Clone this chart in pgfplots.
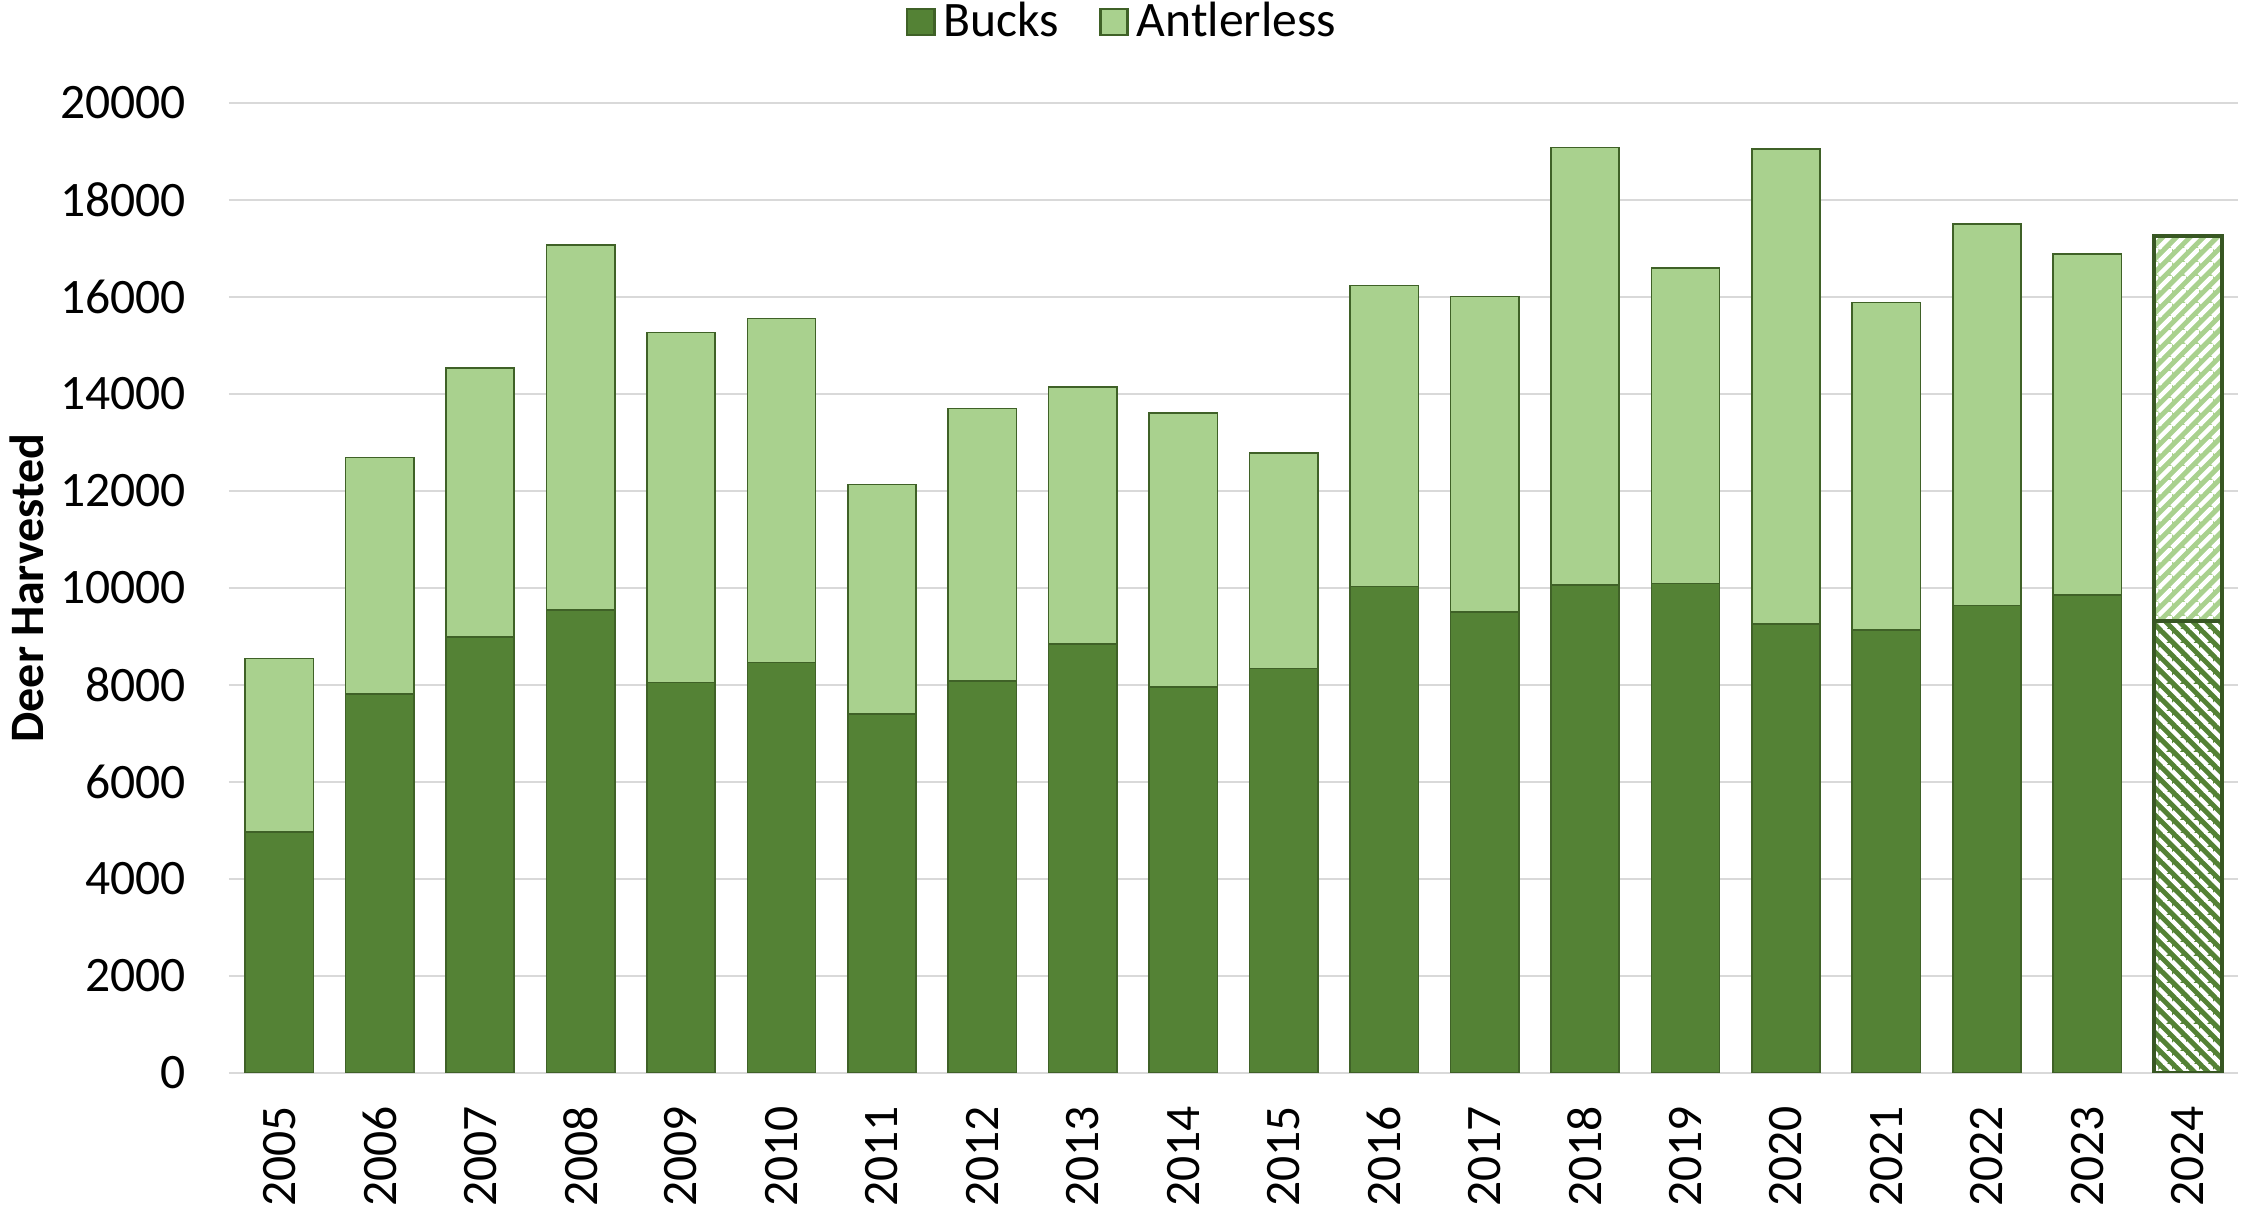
\documentclass[border=0pt]{standalone}
\usepackage{pgfplots}
\pgfplotsset{compat=1.18}
\usetikzlibrary{patterns}
\usepackage{fontspec}
\setmainfont{Carlito}
\definecolor{bucks}{HTML}{548235}
\definecolor{antler}{HTML}{A9D18E}
\definecolor{edgec}{HTML}{3F6127}
\definecolor{edgeb}{HTML}{385723}
\definecolor{gridc}{HTML}{D9D9D9}
% inherently coloured hatch patterns: coloured background with white diagonal stripes
\pgfdeclarepatterninherentlycolored{buckhatch}
  {\pgfqpoint{-1pt}{-1pt}}{\pgfqpoint{4.4pt}{4.4pt}}{\pgfqpoint{3.4pt}{3.4pt}}
  {\pgfsetfillcolor{bucks}
   \pgfpathrectangle{\pgfqpoint{-1pt}{-1pt}}{\pgfqpoint{5.4pt}{5.4pt}}\pgfusepath{fill}
   \pgfsetstrokecolor{white}\pgfsetlinewidth{1.1pt}
   \pgfpathmoveto{\pgfqpoint{-1pt}{4.4pt}}\pgfpathlineto{\pgfqpoint{4.4pt}{-1pt}}
   \pgfpathmoveto{\pgfqpoint{-1pt}{1pt}}\pgfpathlineto{\pgfqpoint{1pt}{-1pt}}
   \pgfpathmoveto{\pgfqpoint{2.4pt}{4.4pt}}\pgfpathlineto{\pgfqpoint{4.4pt}{2.4pt}}
   \pgfusepath{stroke}}
\pgfdeclarepatterninherentlycolored{antlerhatch}
  {\pgfqpoint{-1pt}{-1pt}}{\pgfqpoint{4.4pt}{4.4pt}}{\pgfqpoint{3.4pt}{3.4pt}}
  {\pgfsetfillcolor{antler}
   \pgfpathrectangle{\pgfqpoint{-1pt}{-1pt}}{\pgfqpoint{5.4pt}{5.4pt}}\pgfusepath{fill}
   \pgfsetstrokecolor{white}\pgfsetlinewidth{1.1pt}
   \pgfpathmoveto{\pgfqpoint{-1pt}{-1pt}}\pgfpathlineto{\pgfqpoint{4.4pt}{4.4pt}}
   \pgfpathmoveto{\pgfqpoint{-1pt}{2.4pt}}\pgfpathlineto{\pgfqpoint{1pt}{4.4pt}}
   \pgfpathmoveto{\pgfqpoint{2.4pt}{-1pt}}\pgfpathlineto{\pgfqpoint{4.4pt}{1pt}}
   \pgfusepath{stroke}}
\pgfplotsset{
  common/.style={
    scale only axis, width=502.25pt, height=242.5pt,
    at={(0,0)}, anchor=south west,
    ybar stacked, bar width=0.68,
    xmin=-0.5, xmax=19.5, ymin=0, ymax=20000,
  }
}
\begin{document}
\begin{tikzpicture}
\begin{axis}[
  common,
  ytick={0,2000,...,20000},
  xtick={0,...,19},
  xticklabels={2005,2006,2007,2008,2009,2010,2011,2012,2013,2014,2015,2016,2017,2018,2019,2020,2021,2022,2023,2024},
  scaled y ticks=false,
  /pgf/number format/1000 sep={},
  /pgf/number format/assume math mode=true,
  major tick length=0pt,
  axis line style={draw=none},
  ymajorgrids, grid style={gridc, line width=0.5pt},
  ticklabel style={font=\fontsize{12.4}{15}\selectfont},
  yticklabel style={xshift=-7.2pt},
  xticklabel style={rotate=90, anchor=east, xshift=-4.7pt},
  ylabel={\bfseries Deer Harvested},
  ylabel style={font=\fontsize{12}{14}\selectfont, at={(axis description cs:-0.1005,0.5)}, anchor=center},
  legend style={at={(0.446,1.0835)}, anchor=center, draw=none, fill=none, legend columns=-1,
    font=\fontsize{12.4}{15}\selectfont,
    /tikz/every even column/.append style={column sep=8pt}},
  legend image code/.code={\draw[#1, line width=0.6pt] (0pt,-3.3pt) rectangle (6.8pt,3.3pt);},
]
\addplot[fill=bucks, draw=edgec, line width=0.4pt] coordinates {
(0,4970) (1,7810) (2,8990) (3,9550) (4,8050) (5,8460) (6,7400) (7,8080) (8,8850) (9,7960)
(10,8340) (11,10030) (12,9500) (13,10060) (14,10090) (15,9260) (16,9140) (17,9640) (18,9850)};
\addlegendentry{Bucks}
\addplot[fill=antler, draw=edgec, line width=0.4pt] coordinates {
(0,3580) (1,4880) (2,5540) (3,7520) (4,7220) (5,7100) (6,4730) (7,5620) (8,5290) (9,5650)
(10,4440) (11,6210) (12,6510) (13,9020) (14,6510) (15,9790) (16,6750) (17,7870) (18,7040)};
\addlegendentry{Antlerless}
\end{axis}
\begin{axis}[common, hide axis]
\addplot[pattern=buckhatch, draw=edgeb, line width=1pt] coordinates {(19,9320)};
\addplot[pattern=antlerhatch, draw=edgeb, line width=1pt] coordinates {(19,7930)};
\end{axis}
\pgfresetboundingbox
\path[use as bounding box] (-57.25pt,-34.25pt) rectangle (503.25pt,268.25pt);
\end{tikzpicture}
\end{document}
